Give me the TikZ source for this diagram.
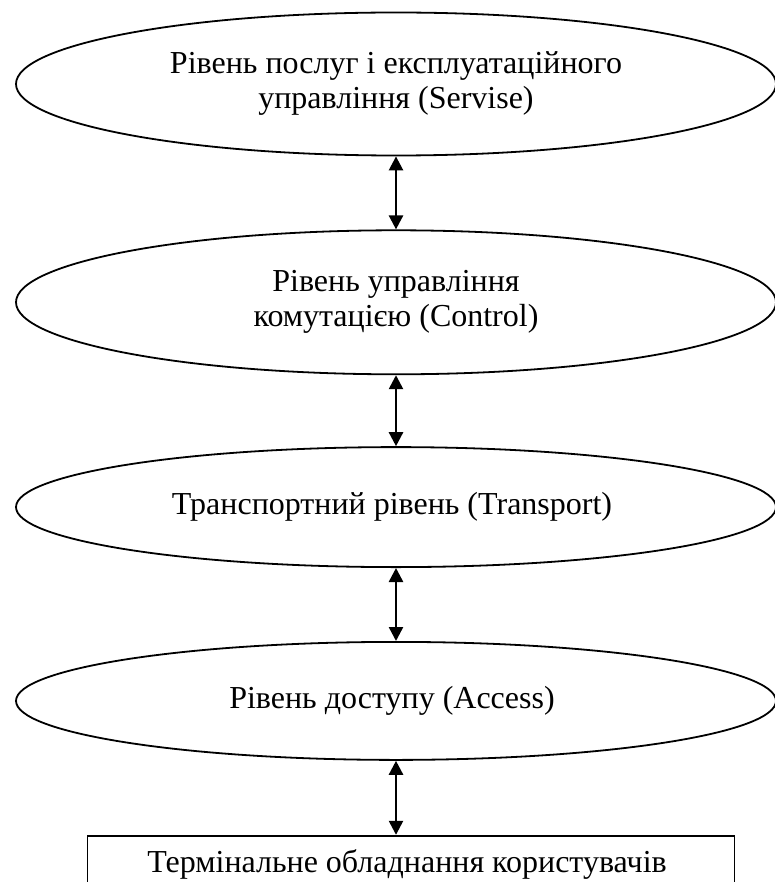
\documentclass[tikz,border=0pt]{standalone}
\usepackage{fontspec}
\setmainfont{Liberation Serif}
\usetikzlibrary{shapes.geometric, positioning, arrows.meta}

\begin{document}
\begin{tikzpicture}[
	x=1pt, y=1pt,
	font=\fontsize{32}{35}\selectfont,
	nodes = {
		align = center
	},
	lines/.style={
		line width=2.5pt,
		{Triangle[length=14pt,width=14pt]}-{Triangle[length=14pt,width=14pt]}
	},
	level/.style={
		ellipse,
		draw=black,
		line width=1.8pt,
		minimum width=760pt,
		inner sep=0pt,
		text centered
	},
	term/.style={
		rectangle,
		draw=black,
		line width=1.8pt,
		minimum width=647pt,
		minimum height=58pt,
		text centered
	}
]
	\useasboundingbox (0,0) rectangle (774,-882);

	\node[level, minimum height=143pt] (service) at (396,-84) {
		Рівень послуг і експлуатаційного\\
		управління (Servise)
	};

	\node[level, minimum height=144pt] (control) [below=73pt of service] {
		Рівень управління\\
		комутацією (Control)
	};

	\node[level, minimum height=120pt] (transport) [below=71pt of control] {
		Транспортний рівень (Transport)
	};

	\node[level, minimum height=118pt] (access) [below=73pt of transport] {
		Рівень доступу (Access)
	};

	\node[term] (terminal) [below=74pt of access, xshift=15pt] {
		Термінальне обладнання користувачів
	};

	\draw[lines] (service) -- (control);
	\draw[lines] (control) -- (transport);
	\draw[lines] (transport) -- (access);
	\draw[lines] (access) -- (access |- terminal.north);
\end{tikzpicture}
\end{document}
